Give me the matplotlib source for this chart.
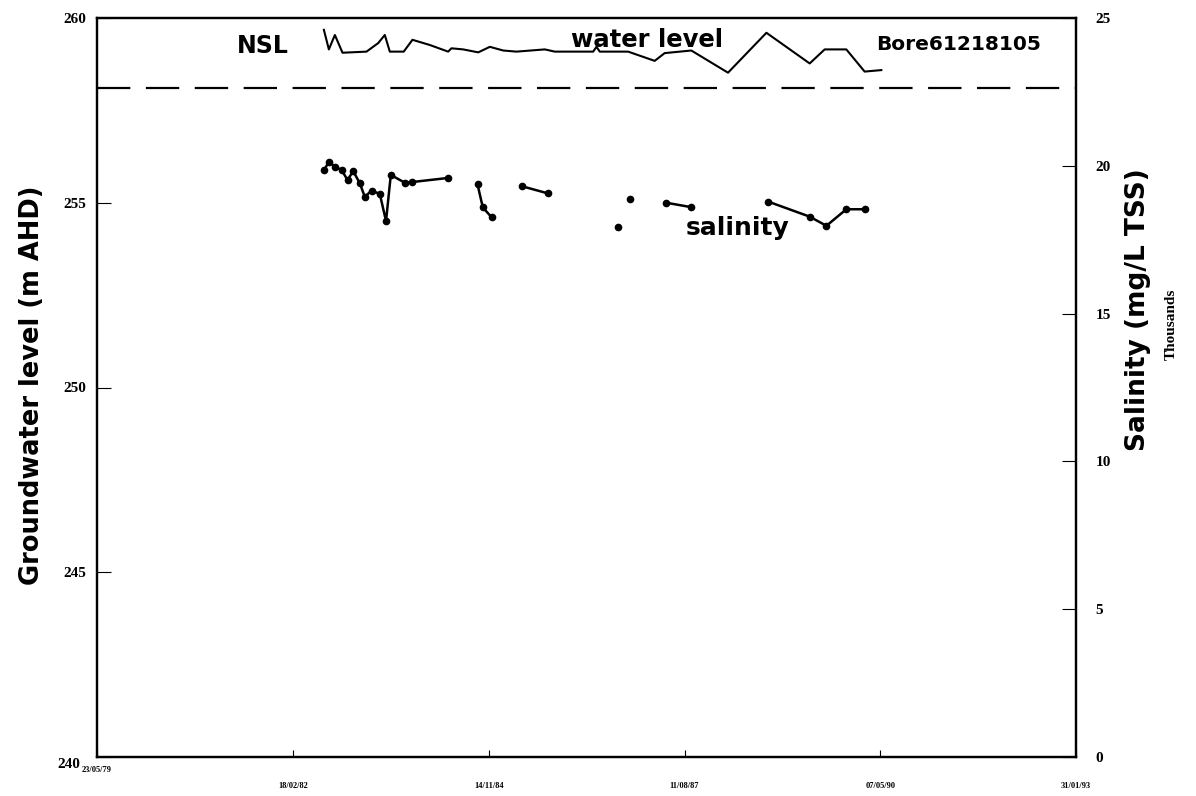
import numpy as np
import matplotlib
matplotlib.use("Agg")
import matplotlib.pyplot as plt
import matplotlib.dates as mdates
import matplotlib.transforms as mtransforms
from datetime import datetime, timedelta

# ---- data (decimal years) ----
wl_years = [1982.562, 1982.632, 1982.716, 1982.823, 1983.159, 1983.322, 1983.415, 1983.485,
            1983.680, 1983.802, 1984.044, 1984.301, 1984.347, 1984.511, 1984.721, 1984.883,
            1985.070, 1985.256, 1985.652, 1985.792, 1986.329, 1986.375, 1986.421, 1986.818,
            1987.190, 1987.330, 1987.703, 1988.216, 1988.752, 1989.357, 1989.567, 1989.870,
            1990.126, 1990.360]
wl_level = [259.68, 259.15, 259.54, 259.06, 259.09, 259.32, 259.54, 259.09,
            259.09, 259.41, 259.27, 259.09, 259.18, 259.15, 259.07, 259.22,
            259.12, 259.09, 259.15, 259.09, 259.09, 259.22, 259.09, 259.09,
            258.84, 259.05, 259.12, 258.52, 259.60, 258.77, 259.15, 259.15,
            258.55, 258.59]

# salinity (thousand mg/L TSS); NaN separates unconnected segments
sal_years = [1982.567, 1982.632, 1982.716, 1982.810, 1982.893, 1982.973, 1983.065, 1983.135,
             1983.229, 1983.345, 1983.432, 1983.499, 1983.694, 1983.795, 1984.305, np.nan,
             1984.711, 1984.785, 1984.907, np.nan,
             1985.330, 1985.690, np.nan,
             1986.675, np.nan,
             1986.840, np.nan,
             1987.354, 1987.703, np.nan,
             1988.775, 1989.357, 1989.591, 1989.870, 1990.126]
sal_values = [19.86, 20.14, 19.97, 19.86, 19.52, 19.82, 19.41, 18.95,
              19.16, 19.05, 18.13, 19.69, 19.43, 19.45, 19.59, np.nan,
              19.37, 18.59, 18.26, np.nan,
              19.31, 19.07, np.nan,
              17.92, np.nan,
              18.88, np.nan,
              18.75, 18.60, np.nan,
              18.79, 18.28, 17.97, 18.53, 18.53]

nsl_level = 258.1

tick_dates = ["23/05/79", "18/02/82", "14/11/84", "11/08/87", "07/05/90", "31/01/93"]
left_ticks = [240, 245, 250, 255, 260]
right_ticks = [0, 5, 10, 15, 20, 25]


def yr2date(y):
    if np.isnan(y):
        return np.nan
    yi = int(y)
    start = datetime(yi, 1, 1)
    days = (datetime(yi + 1, 1, 1) - start).days
    return mdates.date2num(start + timedelta(days=(y - yi) * days))


wl_x = [yr2date(v) for v in wl_years]
sal_x = [yr2date(v) for v in sal_years]
tick_x = [mdates.date2num(datetime.strptime(t, "%d/%m/%y")) for t in tick_dates]

serif = "Liberation Serif"
sans = "DejaVu Sans"

W, H = 1196, 796
fig = plt.figure(figsize=(W / 100, H / 100), dpi=100)
ax = fig.add_axes([97 / W, 1 - 757 / H, (1076 - 97) / W, (757 - 18) / H])
ax2 = ax.twinx()

ax.plot(wl_x, wl_level, color="black", lw=1.5)
ax.axhline(nsl_level, color="black", lw=1.6, dashes=(15, 7))
ax2.plot(sal_x, sal_values, color="black", lw=1.8, marker="o", ms=4.5)

ax.set_xlim(tick_x[0], tick_x[-1])
ax.set_ylim(240, 260)
ax2.set_ylim(0, 25)
ax.set_xticks(tick_x)
ax.set_xticklabels(tick_dates, fontfamily=serif, fontweight="bold", fontsize=6)
ax.set_yticks(left_ticks)
ax.set_yticklabels([str(t) for t in left_ticks], fontfamily=serif, fontweight="bold", fontsize=11)
ax2.set_yticks(right_ticks)
ax2.set_yticklabels([str(t) for t in right_ticks], fontfamily=serif, fontweight="bold", fontsize=11)

ax.tick_params(axis="x", direction="in", length=5, pad=18)
ax.tick_params(axis="y", direction="in", length=10, pad=8)
ax2.tick_params(axis="y", direction="in", length=10, pad=14)

# first date label sits higher; lowest left label sits a little lower
lbl0 = ax.get_xticklabels()[0]
lbl0.set_transform(lbl0.get_transform() + mtransforms.ScaledTranslation(0, 0.16, fig.dpi_scale_trans))
ylbl0 = ax.get_yticklabels()[0]
ylbl0.set_transform(ylbl0.get_transform() + mtransforms.ScaledTranslation(-0.06, -0.06, fig.dpi_scale_trans))

for a in (ax, ax2):
    for s in a.spines.values():
        s.set_linewidth(1.6)

fig.text(32 / W, 1 - 385 / H, "Groundwater level (m AHD)", rotation=90, fontfamily=sans,
         fontweight="bold", fontsize=18.5, ha="center", va="center")
fig.text(1138 / W, 1 - 310 / H, "Salinity (mg/L TSS)", rotation=90, fontfamily=sans,
         fontweight="bold", fontsize=19, ha="center", va="center")
fig.text(1171 / W, 1 - 324 / H, "Thousands", rotation=90, fontfamily=serif, fontweight="bold",
         fontsize=11, ha="center", va="center")

fig.text(263 / W, 1 - 53 / H, "NSL", fontfamily=sans, fontweight="bold", fontsize=17,
         ha="center", va="baseline")
fig.text(647 / W, 1 - 47 / H, "water level", fontfamily=sans, fontweight="bold", fontsize=17.5,
         ha="center", va="baseline")
fig.text(959 / W, 1 - 50 / H, "Bore61218105", fontfamily=sans, fontweight="bold", fontsize=14.5,
         ha="center", va="baseline")
fig.text(738 / W, 1 - 235 / H, "salinity", fontfamily=sans, fontweight="bold", fontsize=18,
         ha="center", va="baseline")

fig.savefig("out.png", dpi=100)
